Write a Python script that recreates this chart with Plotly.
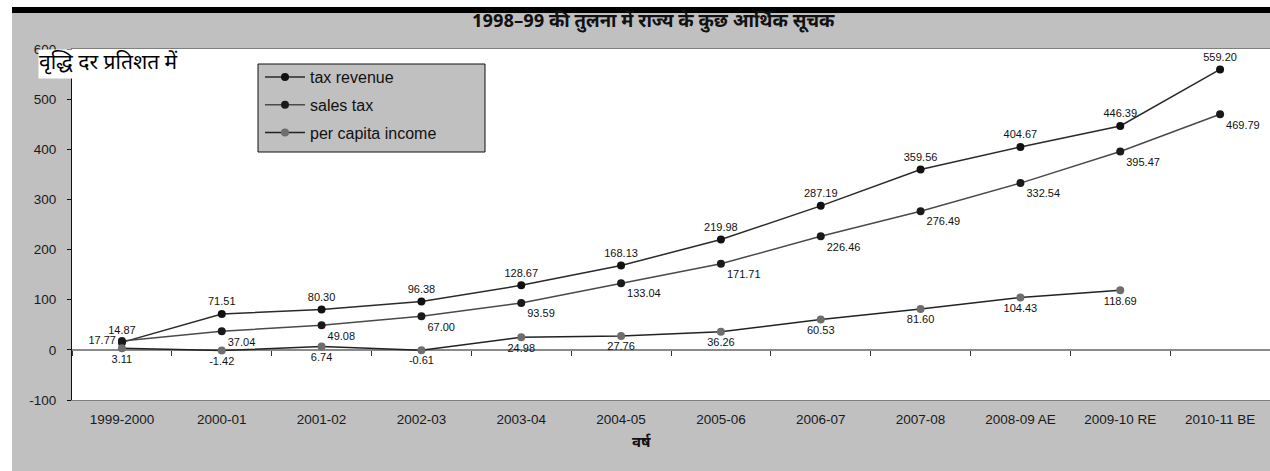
import plotly.graph_objects as go

categories = ["1999-2000", "2000-01", "2001-02", "2002-03", "2003-04", "2004-05",
              "2005-06", "2006-07", "2007-08", "2008-09 AE", "2009-10 RE", "2010-11 BE"]
tax_revenue = [14.87, 71.51, 80.30, 96.38, 128.67, 168.13, 219.98, 287.19, 359.56, 404.67, 446.39, 559.20]
sales_tax = [17.77, 37.04, 49.08, 67.00, 93.59, 133.04, 171.71, 226.46, 276.49, 332.54, 395.47, 469.79]
per_capita_income = [3.11, -1.42, 6.74, -0.61, 24.98, 27.76, 36.26, 60.53, 81.60, 104.43, 118.69, None]
y_tick_values = [-100, 0, 100, 200, 300, 400, 500, 600]
y_tick_labels = ["-100", "0", "100", "200", "300", "400", "500", "600"]

title_text = "1998–99 की तुलना में राज्य के कुछ आर्थिक सूचक"
y_title = "वृद्धि दर प्रतिशत में"
x_title = "वर्ष"

W, H = 1270, 471
ML, MR, MT, MB = 72, 0, 49, 71
PW, PH = W - ML - MR, H - MT - MB

def px_x(p):
    return (p - ML) / PW

def px_y(p):
    return (H - MB - p) / PH

num_font = dict(family="Liberation Sans Narrow, Arial Narrow, Liberation Sans, Arial", size=11, color="#111")
tick_font = dict(family="Liberation Sans, Arial", size=13.5, color="#1a1a1a")
dev_font = "Noto Sans Devanagari, Lohit Devanagari, Mangal, Noto Sans, sans-serif"

def fmt(v):
    return "" if v is None else f"{v:.2f}"

fig = go.Figure()
fig.add_trace(go.Scatter(
    x=categories, y=tax_revenue, name="tax revenue", mode="lines+markers+text",
    line=dict(color="#2a2a2a", width=1.5), marker=dict(color="#111", size=8),
    text=[fmt(v) for v in tax_revenue], textposition="top center", textfont=num_font,
    legendgroup="a", hoverinfo="x+y"))
st_pos = ["middle left"] + ["bottom right"] * 11
fig.add_trace(go.Scatter(
    x=categories, y=sales_tax, name="sales tax", mode="lines+markers+text",
    line=dict(color="#4a4a4a", width=1.5), marker=dict(color="#1a1a1a", size=8),
    text=[fmt(v) for v in sales_tax], textposition=st_pos, textfont=num_font,
    legendgroup="b", hoverinfo="x+y"))
fig.add_trace(go.Scatter(
    x=categories, y=per_capita_income, name="per capita income", mode="lines+markers+text",
    line=dict(color="#222", width=1.5), marker=dict(color="#6e6e6e", size=8),
    text=[fmt(v) for v in per_capita_income], textposition="bottom center", textfont=num_font,
    legendgroup="c", xaxis="x2", hoverinfo="x+y"))

shapes = [
    dict(type="rect", xref="paper", yref="paper", x0=px_x(0), x1=px_x(W), y0=px_y(7), y1=px_y(0),
         fillcolor="white", line=dict(width=0), layer="below"),
    dict(type="rect", xref="paper", yref="paper", x0=px_x(0), x1=px_x(W), y0=px_y(13), y1=px_y(7),
         fillcolor="black", line=dict(width=0), layer="below"),
    dict(type="rect", xref="paper", yref="paper", x0=px_x(0), x1=px_x(12), y0=px_y(H), y1=px_y(7),
         fillcolor="white", line=dict(width=0), layer="below"),
    # legend frame
    dict(type="rect", xref="paper", yref="paper", x0=px_x(258), x1=px_x(485), y0=px_y(152), y1=px_y(64),
         fillcolor="#c0c0c0", line=dict(color="#111", width=1), layer="above"),
]

annotations = [
    dict(text=y_title, xref="paper", yref="paper", x=px_x(38), y=px_y(49), xanchor="left", yanchor="top",
         showarrow=False, bgcolor="white", font=dict(family=dev_font, size=21, color="black"), borderpad=0),
    dict(text=f"<b>{x_title}</b>", xref="paper", yref="paper", x=px_x(641), y=px_y(443), xanchor="center",
         yanchor="middle", showarrow=False, font=dict(family=dev_font, size=15, color="#111")),
    dict(text=title_text, xref="paper", yref="paper", x=px_x(653), y=px_y(22), xanchor="center",
         yanchor="middle", showarrow=False, font=dict(family=dev_font, size=18.5, color="#111", weight="bold")),
]

fig.update_layout(
    width=W, height=H,
    margin=dict(l=ML, r=MR, t=MT, b=MB, pad=0),
    paper_bgcolor="#c0c0c0", plot_bgcolor="white",
    shapes=shapes, annotations=annotations,
    showlegend=True,
    legend=dict(x=px_x(260), y=px_y(60), xanchor="left", yanchor="top",
                bgcolor="rgba(0,0,0,0)", borderwidth=0,
                font=dict(family="Liberation Sans, Arial", size=16, color="#111"),
                tracegroupgap=4, itemwidth=40),
    xaxis=dict(type="category", categoryarray=categories, range=[-0.5, 11.5],
               showgrid=False, zeroline=False, showline=True, mirror=True,
               linecolor="#808080", linewidth=1, ticks="", ticklabelstandoff=7,
               tickfont=tick_font),
    xaxis2=dict(type="category", categoryarray=categories, range=[-0.5, 11.5],
                overlaying="x", anchor="free", position=100 / 700, side="bottom",
                showgrid=False, zeroline=False, showline=True, linecolor="#8a8a8a", linewidth=2,
                ticks="outside", ticklen=5, tickcolor="#333", tickson="boundaries",
                showticklabels=False, layer="below traces"),
    yaxis=dict(range=[-100, 600], tickmode="array", tickvals=y_tick_values, ticktext=y_tick_labels,
               showgrid=False, zeroline=False,
               showline=True, linecolor="#111", linewidth=1, ticks="outside", ticklen=4,
               tickcolor="#111", ticklabelstandoff=8, tickfont=tick_font),
)

fig.write_html("out.html")
